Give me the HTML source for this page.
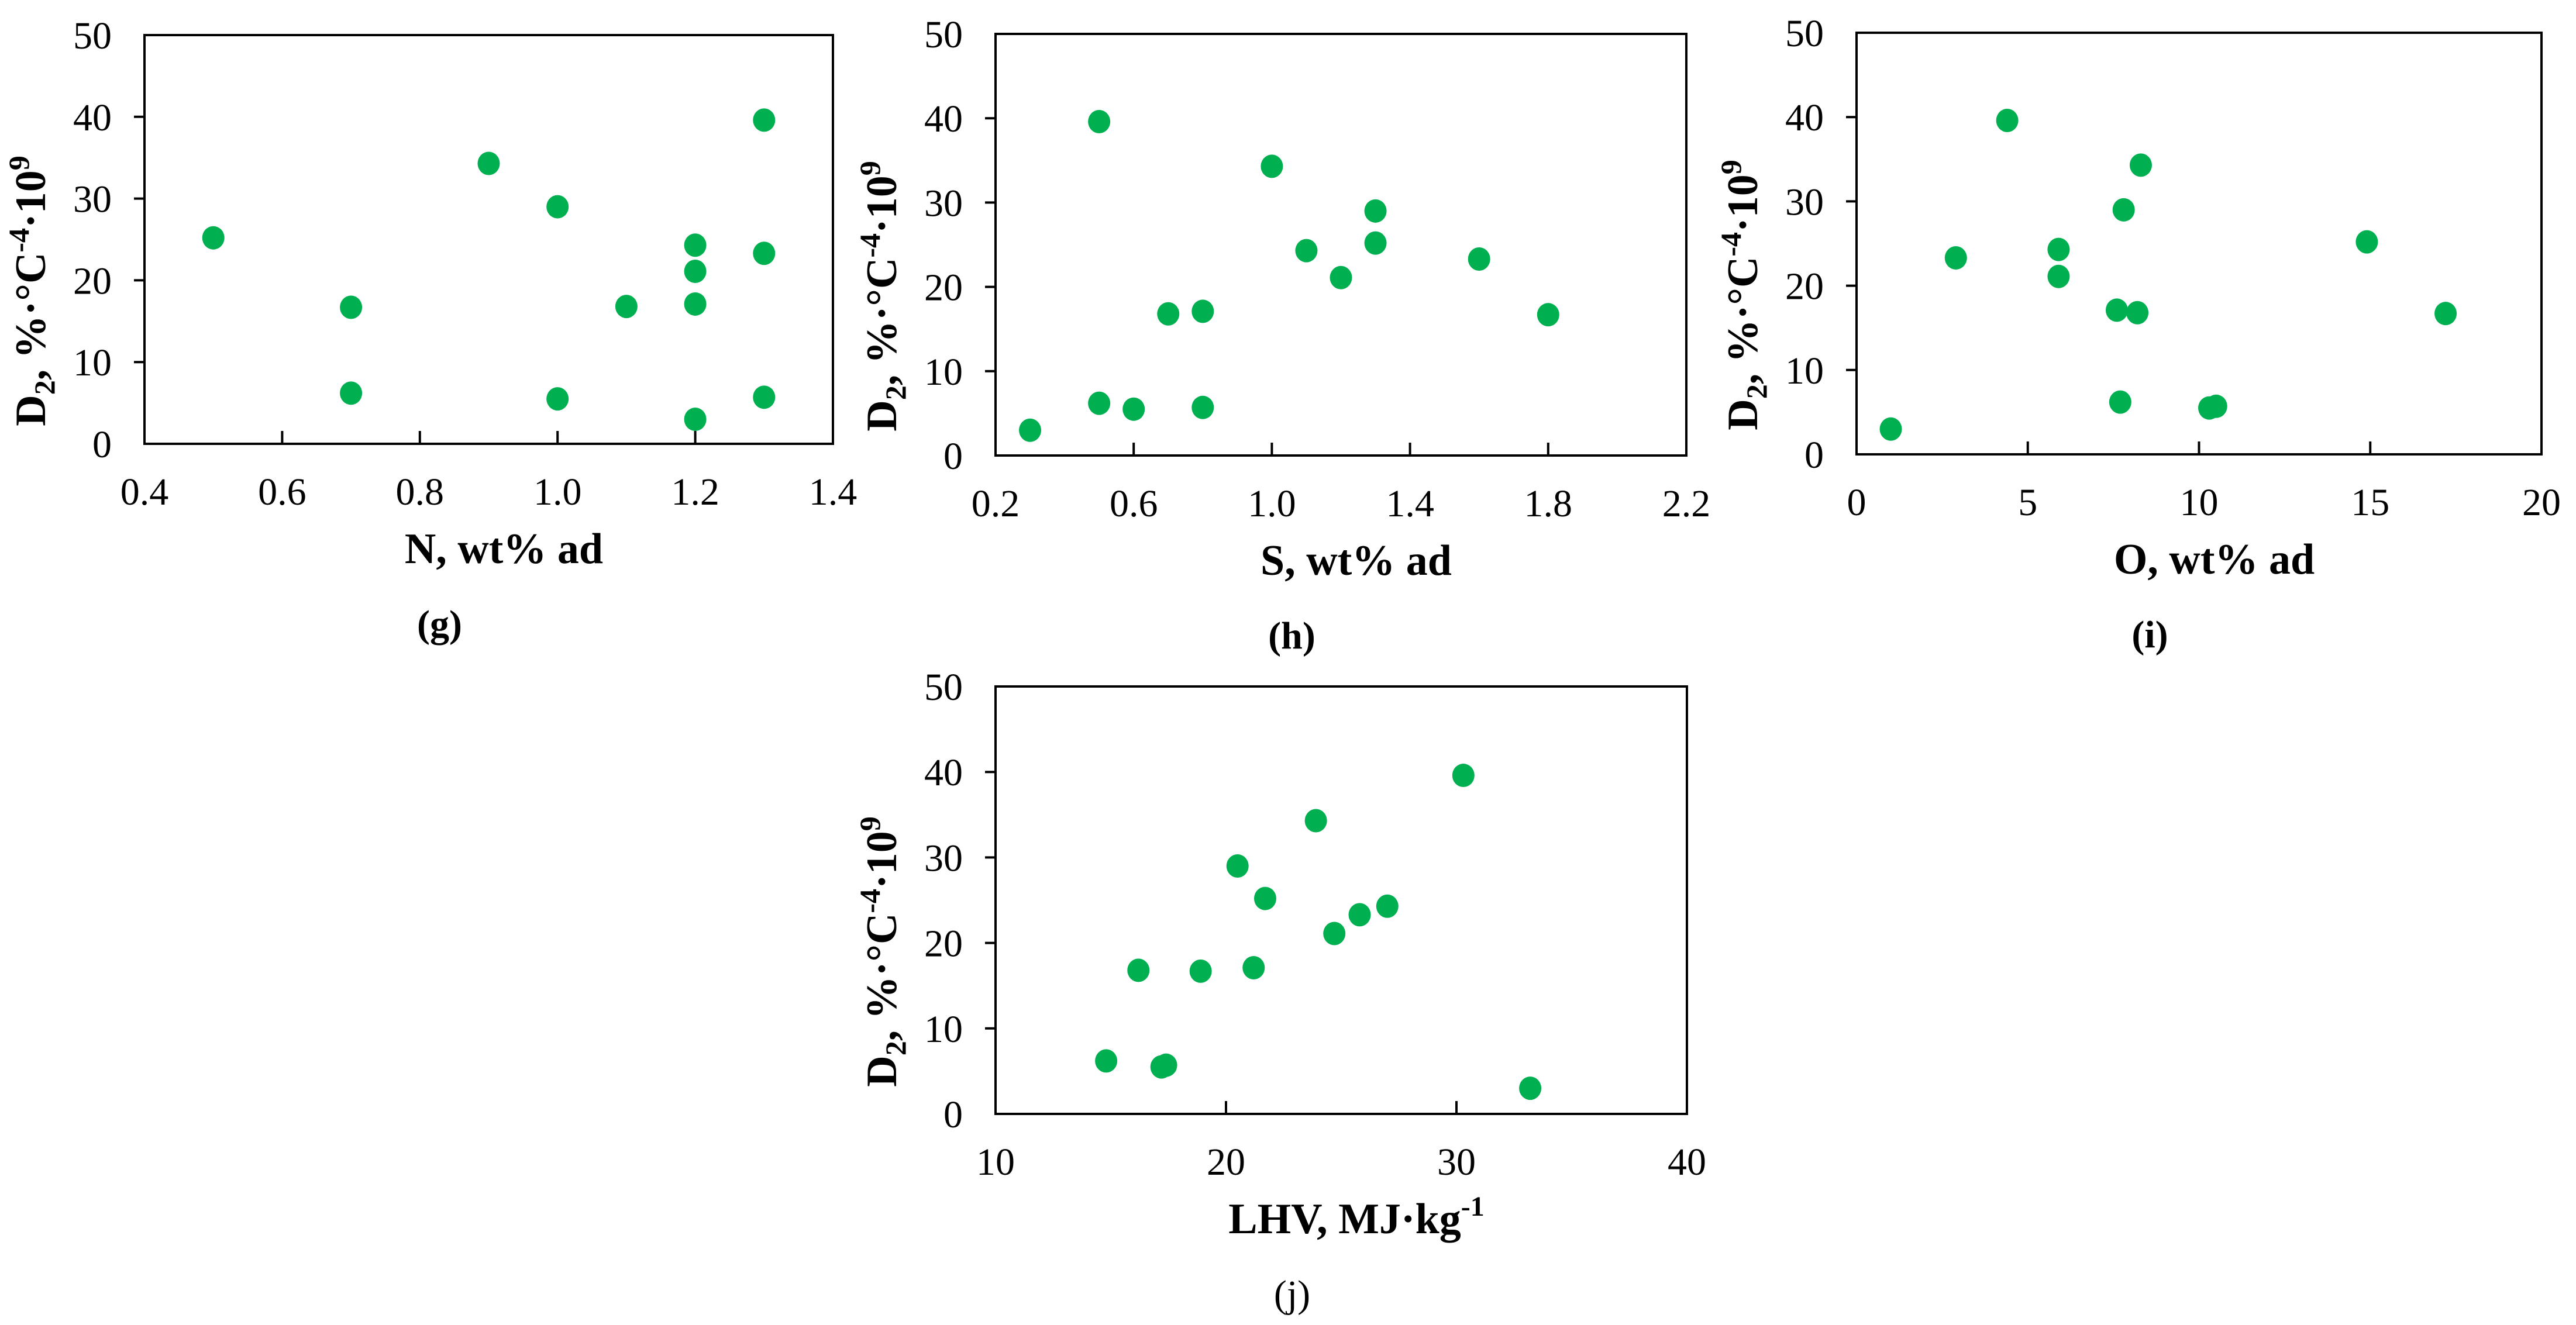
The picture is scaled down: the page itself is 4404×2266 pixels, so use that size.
<!DOCTYPE html>
<html><head><meta charset="utf-8"><style>
html,body{margin:0;padding:0;background:#fff;}
svg{display:block;font-family:"Liberation Serif",serif;}
</style></head><body>
<svg id="chart" width="4404" height="2266" viewBox="0 0 4404 2266" xmlns="http://www.w3.org/2000/svg"></svg>
<script>
const yTicks = [0, 10, 20, 30, 40, 50];
const nX = [0.5, 0.7, 0.7, 0.9, 1.0, 1.0, 1.1, 1.2, 1.2, 1.2, 1.2, 1.3, 1.3, 1.3];
const nY = [25.2, 16.7, 6.2, 34.3, 29.0, 5.5, 16.8, 24.3, 21.1, 17.1, 3.0, 39.6, 23.3, 5.7];
const nTicks = [0.4, 0.6, 0.8, 1.0, 1.2, 1.4];
const sX = [0.3, 0.5, 0.5, 0.6, 0.7, 0.8, 0.8, 1.0, 1.1, 1.2, 1.3, 1.3, 1.6, 1.8];
const sY = [3.0, 39.6, 6.2, 5.5, 16.8, 17.1, 5.7, 34.3, 24.3, 21.1, 29.0, 25.2, 23.3, 16.7];
const sTicks = [0.2, 0.6, 1.0, 1.4, 1.8, 2.2];
const oX = [1.0, 2.9, 4.4, 5.9, 5.9, 7.6, 7.7, 7.8, 8.2, 8.3, 10.3, 10.5, 14.9, 17.2];
const oY = [3.0, 23.3, 39.6, 24.3, 21.1, 17.1, 6.2, 29.0, 16.8, 34.3, 5.5, 5.7, 25.2, 16.7];
const oTicks = [0, 5, 10, 15, 20];
const lX = [14.8, 16.2, 17.2, 17.4, 18.9, 20.5, 21.2, 21.7, 23.9, 24.7, 25.8, 27.0, 30.3, 33.2];
const lY = [6.2, 16.8, 5.5, 5.7, 16.7, 29.0, 17.1, 25.2, 34.3, 21.1, 23.3, 24.3, 39.6, 3.0];
const lTicks = [10, 20, 30, 40];

const NS = "http://www.w3.org/2000/svg";
const svg = document.getElementById('chart');
function mk(tag, attrs, parent, text) {
  const e = document.createElementNS(NS, tag);
  for (const k in attrs) e.setAttribute(k, attrs[k]);
  if (text !== undefined) e.textContent = text;
  (parent || svg).appendChild(e);
  return e;
}
function panel(id, box, xs, ys, xt, xTitleParts, label, dec) {
  const g = mk('g', {});
  
  
  const [L, T, R, B] = box;
  const xmin = xt[0], xmax = xt[xt.length - 1];
  const sx = v => L + (v - xmin) / (xmax - xmin) * (R - L);
  const sy = v => B - v / 50 * (B - T);
  const frame = mk('rect', {x: L, y: T, width: R - L, height: B - T, fill: 'none', stroke: '#000', 'stroke-width': 4}, g);
  
  
  yTicks.forEach(t => {
    const y = sy(t);
    if (t > 0 && t < 50) {
      const tk = mk('line', {x1: L - 18, x2: L, y1: y, y2: y, stroke: '#000', 'stroke-width': 4}, g);
      
      
    }
    const tl = mk('text', {x: L - 56, y: y + 23, 'font-size': 66, 'text-anchor': 'end'}, g, String(t));
    
    
  });
  xt.forEach((t, i) => {
    const x = sx(t);
    if (i > 0 && i < xt.length - 1) {
      const tk = mk('line', {x1: x, x2: x, y1: B - 22, y2: B, stroke: '#000', 'stroke-width': 4}, g);
      
      
    }
    const tl = mk('text', {x: x, y: B + 104, 'font-size': 66, 'text-anchor': 'middle'}, g, t.toFixed(dec));
    
    
  });
  xs.forEach((v, i) => {
    const c = mk('ellipse', {cx: sx(v), cy: sy(ys[i]), rx: 19, ry: 20, fill: '#00B050'}, g);
    
    
  });
  const cx = (L + R) / 2 + 26;
  const xt2 = mk('text', {x: cx, y: B + 204, 'font-size': 74, 'font-weight': 'bold', 'text-anchor': 'middle'}, g);
  
  
  mk('tspan', {}, xt2, xTitleParts[0]);
  if (xTitleParts[1]) mk('tspan', {'font-size': 48, dy: -30}, xt2, xTitleParts[1]);
  const yc = (T + B) / 2 + 88;
  const yt = mk('text', {transform: `translate(${L - 170},${yc}) rotate(-90)`, 'font-size': 74, 'font-weight': 'bold', 'text-anchor': 'middle'}, g);
  
  
  mk('tspan', {}, yt, 'D');
  mk('tspan', {'font-size': 50, dy: 16}, yt, '2');
  mk('tspan', {dy: -16}, yt, ', %·°C');
  mk('tspan', {'font-size': 50, dy: -28}, yt, '-4');
  mk('tspan', {dy: 28}, yt, '·10');
  mk('tspan', {'font-size': 50, dy: -28}, yt, '9');
  const pl = mk('text', {x: (L + R) / 2 - 84, y: B + 330, 'font-size': 66, 'text-anchor': 'middle', 'font-weight': label === 'j' ? 'normal' : 'bold'}, g, '(' + label + ')');
  
  
}
panel('g', [247, 60, 1424, 759], nX, nY, nTicks, ['N, wt% ad'], 'g', 1);
panel('h', [1702, 58, 2883, 779], sX, sY, sTicks, ['S, wt% ad'], 'h', 1);
panel('i', [3174, 56, 4345, 777], oX, oY, oTicks, ['O, wt% ad'], 'i', 0);
panel('j', [1702, 1174, 2884, 1905], lX, lY, lTicks, ['LHV, MJ·kg', '-1'], 'j', 0);
</script>
</body></html>
